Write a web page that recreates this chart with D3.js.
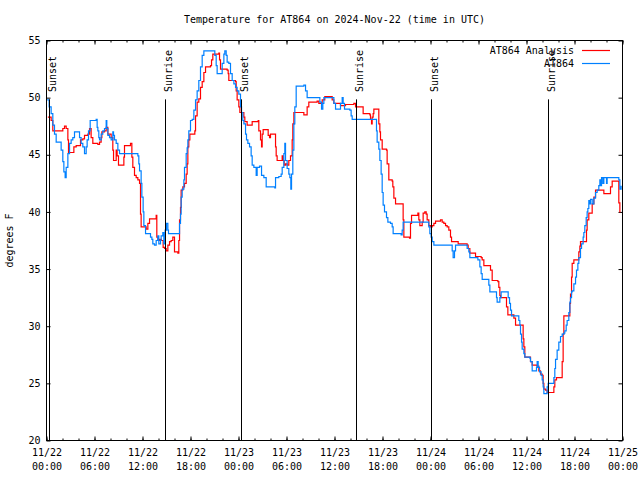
<!DOCTYPE html>
<html>
<head>
<meta charset="utf-8">
<script src="https://cdn.jsdelivr.net/npm/d3@7"></script>
<style>
  html, body { margin: 0; padding: 0; background: #fff; }
  svg { display: block; }
  text { font-family: "DejaVu Sans Mono", "Liberation Mono", monospace; font-size: 10px; fill: #000; }
</style>
</head>
<body>
<svg id="chart" width="640" height="480"></svg>
<script>
// ---------------- DATA ----------------
const titleText = "Temperature for AT864 on 2024-Nov-22 (time in UTC)";
const yLabelText = "degrees F";
const seriesNames = ["AT864 Analysis", "AT864"];

// hours since 2024-11-22 00:00 UTC
const analysisTimes = [0.17,0.58,0.79,1.63,1.83,2.04,2.25,2.46,2.67,2.75,3.29,3.42,3.71,4.13,4.25,4.54,4.75,5.17,5.38,5.58,5.79,6.42,6.63,6.83,6.92,7.25,7.46,7.67,8.08,8.29,8.38,8.58,8.71,8.83,9.0,9.54,9.67,9.75,10.5,10.67,10.79,11.0,11.21,11.42,11.63,11.75,11.83,12.46,12.67,12.88,13.5,13.71,13.79,13.92,14.13,14.33,14.58,14.75,14.96,15.17,15.38,15.58,15.79,16.0,16.42,16.54,16.63,16.75,16.83,17.04,17.25,17.46,17.58,17.67,17.79,17.92,18.42,18.54,18.63,18.83,19.04,19.25,19.46,19.67,19.88,20.5,20.63,20.79,21.54,21.63,21.75,22.58,22.71,22.79,23.63,23.71,23.83,24.04,24.17,24.46,24.67,24.79,25.08,25.5,25.71,26.46,26.54,26.75,26.88,26.96,27.08,27.58,27.71,27.88,28.0,28.54,28.63,28.71,28.83,29.46,29.58,29.71,29.88,30.08,30.29,30.5,30.71,30.79,30.92,31.96,32.17,32.46,32.58,32.79,33.83,34.04,34.25,34.46,34.79,35.5,35.71,35.92,36.54,36.75,37.08,37.38,38.42,38.63,39.46,39.58,40.42,40.5,40.63,40.71,40.83,40.92,41.46,41.54,41.67,41.75,41.96,42.5,42.58,42.79,43.21,43.29,43.42,43.63,44.46,44.58,44.67,45.38,45.5,45.63,46.42,46.54,46.67,46.83,46.96,47.08,47.29,47.46,47.58,47.79,48.0,48.21,48.42,48.63,49.25,49.46,49.67,49.88,50.08,50.29,50.5,50.63,51.33,51.46,52.58,52.71,52.92,53.42,53.63,54.33,54.46,54.67,55.42,55.5,55.71,56.42,56.54,56.67,56.75,57.38,57.5,57.67,58.33,58.42,58.63,59.46,59.58,59.67,59.79,60.42,60.5,60.71,61.33,61.54,61.75,61.96,62.08,62.17,62.38,62.58,63.33,63.42,63.54,63.75,64.33,64.46,64.58,64.67,65.33,65.42,65.5,65.63,65.71,65.92,66.42,66.54,66.67,66.75,67.38,67.5,67.58,67.79,68.08,68.21,68.42,68.63,69.58,69.67,70.42,70.5,70.71,71.46,71.54,71.67,71.75];
const analysisValues = [48.3,48.0,47.1,47.1,47.1,47.3,47.5,47.3,46.3,45.2,45.2,45.7,45.8,45.8,46.3,46.4,46.7,46.8,47.3,46.5,46.0,45.9,46.1,46.5,47.0,47.1,47.4,46.8,46.5,45.4,44.5,44.5,45.4,44.9,44.1,44.1,44.8,45.8,46.0,44.8,43.9,43.2,43.0,42.8,42.5,39.8,38.7,38.5,39.0,39.4,39.4,39.7,37.8,37.5,37.6,37.5,36.9,36.8,36.6,37.1,37.4,37.5,37.8,36.5,36.4,37.5,39.3,40.4,41.9,42.2,42.5,43.3,44.2,45.7,46.3,46.8,46.8,47.1,48.4,49.6,49.9,50.9,51.4,52.2,52.7,52.8,53.3,53.8,53.9,53.3,52.5,52.4,52.1,51.5,51.4,50.6,49.8,49.2,48.7,48.7,48.3,47.9,47.6,47.6,47.9,48.0,47.1,46.3,45.7,46.8,47.2,47.2,46.7,46.5,46.8,46.8,45.7,44.9,44.5,44.9,44.5,44.1,44.2,44.1,44.5,44.9,46.3,47.7,48.7,48.7,48.5,48.5,49.2,49.6,49.7,49.5,49.5,49.8,50.1,50.1,49.8,49.5,49.5,49.3,49.3,49.4,49.5,49.2,49.2,48.6,48.5,48.1,47.7,48.3,48.6,49.0,49.0,47.7,47.0,46.3,45.5,45.4,44.2,42.8,42.7,42.2,41.2,40.7,40.7,39.3,37.8,37.7,39.0,39.7,39.9,39.3,38.8,38.8,39.1,39.9,40.0,39.8,39.3,38.8,38.7,38.8,39.0,39.2,39.3,39.1,39.0,38.8,38.7,38.4,37.8,37.4,37.4,37.2,37.1,36.8,36.4,36.4,36.1,36.0,35.8,35.3,35.3,34.9,34.0,33.9,33.4,32.7,32.5,32.5,31.7,31.0,31.0,30.7,30.1,30.1,28.9,28.2,27.3,27.3,26.9,26.6,26.5,26.1,25.8,25.7,25.0,24.5,24.4,24.2,24.2,24.7,25.3,25.5,25.5,26.9,29.3,30.9,30.9,32.0,32.8,34.3,35.5,35.8,35.8,36.5,37.0,37.4,37.4,38.4,39.3,39.9,39.9,40.7,41.3,41.9,41.9,41.6,41.6,42.2,42.7,42.7,40.8,40.0,40.0];

const obsTimes = [0.08,0.33,0.58,0.79,1.0,1.21,1.71,1.83,2.04,2.17,2.33,2.46,2.67,2.88,3.08,3.29,3.5,4.04,4.13,4.33,4.54,4.75,4.96,5.08,5.25,5.46,6.21,6.33,6.42,6.54,6.63,6.83,7.04,7.25,7.46,7.54,7.67,7.88,8.08,8.29,8.38,8.5,8.71,8.92,9.13,11.42,11.54,11.63,11.83,11.92,12.08,12.17,12.38,13.0,13.17,13.29,13.5,13.71,13.92,14.04,14.25,14.33,14.54,14.67,14.83,15.0,15.17,15.25,16.5,16.63,16.75,16.83,16.96,17.17,17.25,17.46,17.58,17.67,17.79,18.0,18.21,18.42,18.63,18.83,19.04,19.25,19.46,19.67,20.92,21.04,21.21,21.33,21.88,21.96,22.17,22.29,22.46,22.58,22.79,23.0,23.21,23.42,23.63,23.83,24.04,24.25,24.38,24.54,24.67,24.88,25.0,25.17,25.38,25.58,25.71,25.92,26.21,26.33,26.63,26.88,27.17,27.46,28.54,28.63,29.04,29.33,29.46,29.67,29.79,29.88,30.08,30.29,30.42,30.54,30.63,30.79,30.92,31.04,31.21,32.17,32.38,32.58,34.04,34.17,34.38,34.54,34.67,35.71,35.92,36.13,36.67,36.75,36.96,37.08,37.25,37.79,37.92,38.08,38.21,41.13,41.25,41.33,41.54,41.67,41.83,41.96,42.08,42.25,42.5,42.67,43.0,43.21,43.33,44.33,44.46,44.58,47.67,47.79,47.92,48.08,48.21,48.42,50.58,50.71,50.83,51.0,51.13,52.5,52.58,52.79,52.92,53.92,54.17,54.33,54.46,55.08,55.29,55.42,56.13,56.25,56.33,56.54,56.67,56.83,57.58,57.71,57.88,58.0,58.13,58.92,59.04,59.17,59.25,59.38,59.46,59.67,59.79,60.42,60.5,60.71,61.13,61.25,61.33,61.46,61.63,61.83,61.96,62.08,62.17,62.5,62.58,62.71,63.33,63.42,63.54,63.63,63.83,64.04,64.25,64.46,64.67,64.79,64.96,65.08,65.29,65.42,65.5,65.63,65.71,65.92,66.13,66.25,66.42,66.54,66.75,66.88,67.08,67.17,67.29,67.46,67.58,67.67,67.79,67.92,68.0,68.21,68.42,68.63,68.83,69.04,69.17,69.25,69.38,69.54,69.67,70.0,70.08,71.42,71.54,71.67,71.83];
const obsValues = [49.8,49.2,48.6,47.6,46.8,46.1,46.1,45.4,44.4,43.5,43.0,43.9,45.1,46.0,46.3,46.5,47.0,47.0,46.5,46.0,45.7,45.1,45.7,46.3,47.1,48.0,48.1,47.4,47.1,46.5,46.3,46.8,47.1,47.3,48.0,47.3,46.7,46.5,46.3,47.0,46.7,46.3,46.0,45.4,45.1,44.9,44.2,43.6,42.5,41.3,40.0,38.8,38.1,37.8,37.6,37.2,37.1,37.5,37.9,37.2,37.5,37.9,38.2,37.2,38.4,39.0,38.4,38.1,38.1,39.0,39.8,41.3,42.0,42.8,43.9,45.1,45.6,46.3,47.1,48.0,48.1,48.9,49.8,50.6,51.5,52.7,53.7,54.1,54.1,53.7,52.8,52.1,52.1,53.0,53.8,54.1,53.7,53.1,53.0,52.1,51.5,51.2,50.9,50.6,50.3,49.2,48.7,48.0,47.7,46.8,46.3,46.0,45.7,44.9,44.1,43.9,43.2,43.9,44.0,43.2,43.0,42.2,42.1,43.0,43.1,43.3,43.9,45.1,46.0,44.5,43.8,43.3,43.0,42.0,43.3,45.4,47.7,49.2,51.0,51.1,50.6,50.0,50.0,49.6,49.0,49.5,50.0,50.0,49.5,49.0,49.0,49.5,50.0,49.5,49.0,49.0,48.9,48.4,48.1,48.1,47.1,46.1,45.5,44.5,43.3,41.7,40.6,40.0,39.5,39.1,39.0,38.7,38.1,38.0,38.4,39.1,39.1,38.7,38.1,37.8,37.4,37.1,37.1,36.6,36.0,36.6,37.1,37.1,36.8,36.5,36.0,35.8,35.2,34.6,34.1,34.1,33.6,33.0,33.0,32.5,32.1,32.1,32.5,33.0,33.0,32.5,32.0,31.4,30.9,30.9,30.5,30.1,29.3,28.6,28.0,27.6,27.3,27.2,26.9,26.1,26.1,26.4,26.9,26.4,26.0,25.7,25.3,24.7,24.1,24.1,24.7,25.0,25.0,25.5,26.3,27.1,27.9,28.6,29.1,29.3,29.4,29.6,30.1,30.5,31.2,32.1,32.5,33.0,33.1,33.7,34.3,34.9,35.5,36.0,36.8,37.2,37.8,38.2,38.8,39.5,40.0,40.3,41.0,40.7,41.1,40.7,41.2,41.7,41.9,42.3,42.8,42.3,43.0,42.5,43.0,42.5,43.0,43.0,42.8,42.0,42.3];

const eventNames = ["Sunset","Sunrise","Sunset","Sunrise","Sunset","Sunrise"];
const eventTimes = [0.25,14.75,24.25,38.66,48.12,62.66];

const yTicks = [20,25,30,35,40,45,50,55];
const xTickDays  = ["11/22","11/22","11/22","11/22","11/23","11/23","11/23","11/23","11/24","11/24","11/24","11/24","11/25"];
const xTickHours = ["00:00","06:00","12:00","18:00","00:00","06:00","12:00","18:00","00:00","06:00","12:00","18:00","00:00"];

// ---------------- CHART ----------------
const base = Date.UTC(2024, 10, 22);
const toDate = h => new Date(base + h * 3600e3);

const svg = d3.select("#chart");
const L = 46.5, R = 622.5, T = 40.5, B = 440.5;

const x = d3.scaleUtc().domain([toDate(0), toDate(72)]).range([L, R]);
const y = d3.scaleLinear().domain([20, 55]).range([B, T]);

const colors = ["#ff0000", "#0080ff"];

// title
svg.append("text").attr("x", (L + R) / 2).attr("y", 23)
  .attr("text-anchor", "middle").text(titleText);

// y label
svg.append("text").attr("transform", `translate(13,${(T + B) / 2}) rotate(-90)`)
  .attr("text-anchor", "middle").text(yLabelText);

// minor / major x ticks (inward, bottom and top)
const majorTicks = d3.utcHour.every(6).range(toDate(0), toDate(72.01));
const minorTicks = d3.utcHour.every(2).range(toDate(0), toDate(72.01));

const bottomAxis = d3.axisBottom(x).tickValues(majorTicks).tickSize(-4).tickSizeOuter(0).tickPadding(8)
  .tickFormat((d, i) => xTickDays[i]);
const gB = svg.append("g").attr("transform", `translate(0,${B})`).call(bottomAxis);
gB.select(".domain").remove();
gB.selectAll(".tick text").each(function (d, i) {
  const t = d3.select(this);
  t.text(null);
  t.append("tspan").attr("x", 0).attr("dy", "0.71em").text(xTickDays[i]);
  t.append("tspan").attr("x", 0).attr("dy", "1.4em").text(xTickHours[i]);
});
gB.selectAll(".tick text").attr("dy", null).attr("y", 8);

const minorBottom = d3.axisBottom(x).tickValues(minorTicks).tickSize(-2).tickSizeOuter(0).tickFormat("");
const gBm = svg.append("g").attr("transform", `translate(0,${B})`).call(minorBottom);
gBm.select(".domain").remove();

const topAxis = d3.axisTop(x).tickValues(majorTicks).tickSize(-4).tickSizeOuter(0).tickFormat("");
const gT = svg.append("g").attr("transform", `translate(0,${T})`).call(topAxis);
gT.select(".domain").remove();
const minorTop = d3.axisTop(x).tickValues(minorTicks).tickSize(-2).tickSizeOuter(0).tickFormat("");
const gTm = svg.append("g").attr("transform", `translate(0,${T})`).call(minorTop);
gTm.select(".domain").remove();

// y axes
const leftAxis = d3.axisLeft(y).tickValues(yTicks).tickSize(-4).tickSizeOuter(0).tickPadding(6).tickFormat(d3.format("d"));
const gL = svg.append("g").attr("transform", `translate(${L},0)`).call(leftAxis);
gL.select(".domain").remove();
const rightAxis = d3.axisRight(y).tickValues(yTicks).tickSize(-4).tickSizeOuter(0).tickFormat("");
const gR = svg.append("g").attr("transform", `translate(${R},0)`).call(rightAxis);
gR.select(".domain").remove();

svg.selectAll(".tick text").style("font-family", '"DejaVu Sans Mono", monospace').style("font-size", "10px");
svg.selectAll(".tick line").attr("stroke", "#000");

// data lines
const line = d3.line().x(d => x(toDate(d[0]))).y(d => y(d[1])).curve(d3.curveStepAfter);
const analysis = analysisTimes.map((t, i) => [t, analysisValues[i]]);
const obs = obsTimes.map((t, i) => [t, obsValues[i]]);

svg.append("path").datum(analysis).attr("d", line)
  .attr("fill", "none").attr("stroke", colors[0]).attr("stroke-width", 1.2);
svg.append("path").datum(obs).attr("d", line)
  .attr("fill", "none").attr("stroke", colors[1]).attr("stroke-width", 1.2);

// sunrise / sunset markers
const eventTopValue = 49.85;
eventTimes.forEach((t, i) => {
  const xp = Math.round(x(toDate(t))) + 0.5;
  svg.append("line").attr("x1", xp).attr("x2", xp)
    .attr("y1", y(eventTopValue)).attr("y2", B)
    .attr("stroke", "#000").attr("stroke-width", 1);
  svg.append("text").attr("transform", `translate(${xp + 6},92) rotate(-90)`)
    .attr("text-anchor", "start").text(eventNames[i]);
});

// frame
svg.append("rect").attr("x", L).attr("y", T).attr("width", R - L).attr("height", B - T)
  .attr("fill", "none").attr("stroke", "#000").attr("stroke-width", 1);

// legend
seriesNames.forEach((name, i) => {
  const yy = 50 + i * 13;
  svg.append("text").attr("x", 574).attr("y", yy + 4).attr("text-anchor", "end").text(name);
  svg.append("line").attr("x1", 582).attr("x2", 610).attr("y1", yy + 0.5).attr("y2", yy + 0.5)
    .attr("stroke", colors[i]).attr("stroke-width", 1.2);
});
</script>
</body>
</html>
